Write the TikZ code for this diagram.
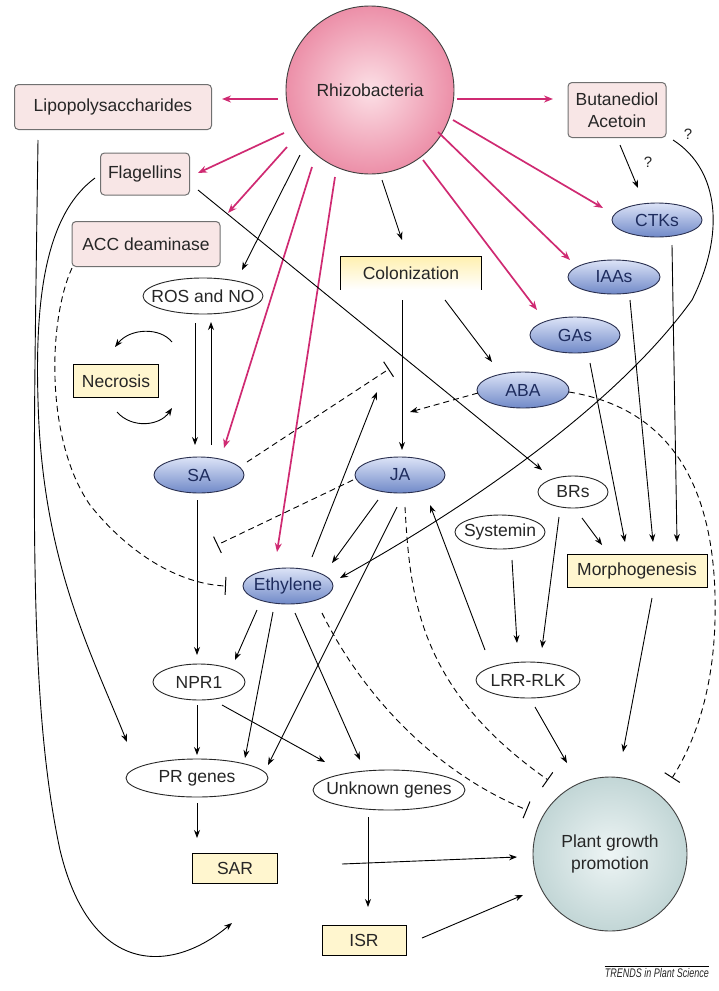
\documentclass[tikz,border=0pt]{standalone}
\usepackage{fontspec}
\setmainfont{Liberation Sans}
\usetikzlibrary{arrows.meta,shapes.geometric}
\definecolor{mag}{HTML}{CF2A72}
\definecolor{pinkfill}{HTML}{F8E6E6}
\definecolor{boxgray}{HTML}{707070}
\definecolor{rhA}{HTML}{FCE0E6}
\definecolor{rhB}{HTML}{EC8FA8}
\definecolor{blueA}{HTML}{DCE3F7}
\definecolor{blueB}{HTML}{7089C8}
\definecolor{navy}{HTML}{2A3050}
\definecolor{navytext}{HTML}{1E2C5E}
\definecolor{yelfill}{HTML}{FFF6CF}
\definecolor{colA}{HTML}{FFF0B0}
\definecolor{pgA}{HTML}{EEF5F5}
\definecolor{pgB}{HTML}{C2D6D6}
\newcommand{\zw}[1]{\makebox[0pt]{#1}}
\begin{document}
\begin{tikzpicture}[x=1pt,y=-1pt,
  every node/.style={font=\fontsize{17.5}{22}\selectfont, inner sep=0pt, text=black!85},
  pinkbox/.style={rectangle, rounded corners=4pt, draw=boxgray, fill=pinkfill, line width=1pt},
  yelbox/.style={rectangle, draw=black, line width=1pt, fill=yelfill},
  blueell/.style={ellipse, draw=navy, line width=0.9pt, top color=blueA, bottom color=blueB, text=navytext},
  whiteell/.style={ellipse, draw=black!85, line width=0.9pt, fill=white},
  arr/.style={line width=0.9pt, -{Stealth[length=8pt,width=6pt]}},
  marr/.style={line width=1.7pt, draw=mag, -{Stealth[length=9pt,width=7pt]}},
  dsh/.style={line width=0.9pt, dash pattern=on 6pt off 4pt},
  darr/.style={dsh, -{Stealth[length=8pt,width=6pt]}},
  inh/.style={dsh, -{Bar[width=18pt,line width=1pt]}}
]
\useasboundingbox (0,0) rectangle (718,991);

% ---------- nodes ----------
\node[circle, minimum size=168pt, draw=black!75, line width=0.9pt, inner color=rhA, outer color=rhB] (rh) at (370,90) {Rhizobacteria};
\node[pinkbox, minimum width=197pt, minimum height=45pt] (lps) at (113,107) {Lipopolysaccharides};
\node[pinkbox, minimum width=89pt, minimum height=42pt] (flag) at (145,174) {Flagellins};
\node[pinkbox, minimum width=148pt, minimum height=45pt] (acc) at (146,244) {ACC deaminase};
\node[pinkbox, minimum width=98pt, minimum height=55pt, align=center] (buta) at (617,110) {Butanediol\\Acetoin};
\node[blueell, minimum width=90pt, minimum height=34pt] (ctks) at (657,220) {\zw{CTKs}};
\node[blueell, minimum width=92pt, minimum height=34pt] (iaas) at (614,277) {\zw{IAAs}};
\node[blueell, minimum width=90pt, minimum height=36pt] (gas) at (575,335) {\zw{GAs}};
\node[blueell, minimum width=92pt, minimum height=36pt] (aba) at (523,390) {\zw{ABA}};
\node[minimum width=140pt, minimum height=33pt, top color=colA, bottom color=white] (colon) at (411,273) {Colonization};
\draw[line width=1pt] (colon.south west) |- (colon.north east) -- (colon.south east);
\node[whiteell, minimum width=120pt, minimum height=36pt] (ros) at (203,296) {\zw{ROS and NO}};
\node[yelbox, minimum width=85pt, minimum height=33pt] (necro) at (116,381) {Necrosis};
\node[blueell, minimum width=90pt, minimum height=36pt] (sa) at (199,475) {\zw{SA}};
\node[blueell, minimum width=90pt, minimum height=36pt] (ja) at (400,475) {\zw{JA}};
\node[whiteell, minimum width=70pt, minimum height=32pt] (brs) at (573,492) {\zw{BRs}};
\node[whiteell, minimum width=90pt, minimum height=34pt] (syst) at (500,532) {\zw{Systemin}};
\node[yelbox, minimum width=140pt, minimum height=33pt] (morph) at (637,571) {Morphogenesis};
\node[blueell, minimum width=90pt, minimum height=36pt] (eth) at (288,586) {\zw{Ethylene}};
\node[whiteell, minimum width=92pt, minimum height=36pt] (npr) at (199,682) {\zw{NPR1}};
\node[whiteell, minimum width=104pt, minimum height=36pt] (lrr) at (528,680) {\zw{LRR-RLK}};
\node[whiteell, minimum width=142pt, minimum height=38pt] (pr) at (197,778) {\zw{PR genes}};
\node[whiteell, minimum width=152pt, minimum height=40pt] (unk) at (389,790) {\zw{Unknown genes}};
\node[yelbox, minimum width=85pt, minimum height=30pt] (sar) at (235,868) {SAR};
\node[yelbox, minimum width=84pt, minimum height=30pt] (isr) at (364,940) {ISR};
\node[circle, minimum size=154pt, draw=black!75, line width=0.9pt, inner color=pgA, outer color=pgB, align=center] (pgp) at (610,854) {Plant growth\\promotion};
\node[font=\fontsize{15}{16}\selectfont] (q1) at (688,134) {?};
\node[font=\fontsize{15}{16}\selectfont] (q2) at (648,162) {?};
\node[font=\fontsize{12.5}{13}\selectfont\itshape, anchor=north east] (footer) at (709,968) {\scalebox{0.72}[1]{TRENDS in Plant Science}};
\draw[line width=0.8pt] ([yshift=2pt]footer.north west) -- ([yshift=2pt]footer.north east);

% ---------- magenta arrows ----------
\draw[marr] ([shift={(-92,9)}]rh.center) -- ([shift={(109,-8)}]lps.center);
\draw[marr] ([shift={(-86,43)}]rh.center) -- ([shift={(53,-1)}]flag.center);
\draw[marr] ([shift={(-83,57)}]rh.center) -- ([shift={(82,-31)}]acc.center);
\draw[marr] ([shift={(-58,77)}]rh.center) -- ([shift={(25,-27)}]sa.center);
\draw[marr] ([shift={(-35,87)}]rh.center) -- ([shift={(-11,-34)}]eth.center);
\draw[marr] ([shift={(87,9)}]rh.center) -- ([shift={(-64,-11)}]buta.center);
\draw[marr] ([shift={(83,30)}]rh.center) -- ([shift={(-54,-12)}]ctks.center);
\draw[marr] ([shift={(68,42)}]rh.center) -- ([shift={(-44,-17)}]iaas.center);
\draw[marr] ([shift={(53,70)}]rh.center) -- ([shift={(-38,-25)}]gas.center);

% ---------- black arrows ----------
\draw[arr] ([shift={(-70,65)}]rh.center) -- ([shift={(39,-26)}]ros.center);
\draw[arr] ([shift={(12,90)}]rh.center) -- ([shift={(-9,-33)}]colon.center);
\draw[arr] ([shift={(3,35)}]buta.center) -- ([shift={(-19,-32)}]ctks.center);
\draw[arr] ([shift={(56,30)}]buta.center) .. controls (720,170) and (725,235) .. (692,300)
   .. controls (620,400) and (480,500) .. ([shift={(52,-8)}]eth.center);
\draw[arr] ([shift={(-9,27)}]colon.center) -- ([shift={(2,-25)}]ja.center);
\draw[arr] ([shift={(34,27)}]colon.center) -- ([shift={(-31,-28)}]aba.center);
\coordinate (abaT) at (410,412);
\draw[darr] ([shift={(-45,3)}]aba.center) -- (abaT);
\coordinate (saT) at (389,369);
\draw[inh] ([shift={(48,-13)}]sa.center) -- (saT);
\coordinate (ethU) at (377,392);
\draw[arr] ([shift={(24,-29)}]eth.center) -- (ethU);
\draw[arr] ([shift={(-8,27)}]ros.center) -- ([shift={(-4,-30)}]sa.center);
\draw[arr] ([shift={(12,-30)}]sa.center) -- ([shift={(8,26)}]ros.center);
\draw[arr] ([shift={(56,-39)}]necro.center) .. controls (160,327) and (130,328) .. ([shift={(-1,-34)}]necro.center);
\draw[arr] ([shift={(1,31)}]necro.center) .. controls (132,429) and (160,426) .. ([shift={(56,27)}]necro.center);
\draw[inh] ([shift={(-74,24)}]acc.center) .. controls (48,320) and (45,440) .. (90,505)
   .. controls (130,555) and (180,584) .. ([shift={(-62,0)}]eth.center);
\coordinate (jaT) at (217,545);
\draw[inh] ([shift={(-47,5)}]ja.center) -- (jaT);
\draw[arr] ([shift={(53,16)}]flag.center) -- ([shift={(-31,-22)}]brs.center);
\coordinate (lpsE) at (232,923);
\draw[arr] ([shift={(-75,33)}]lps.center) .. controls (33,500) and (28,700) .. (60,850)
   .. controls (90,975) and (170,975) .. (lpsE);
\draw[arr] ([shift={(-50,4)}]flag.center) .. controls (45,215) and (35,300) .. (38,400)
   .. controls (42,560) and (90,650) .. ([shift={(-70,-36)}]pr.center);
\draw[arr] ([shift={(-2,25)}]sa.center) -- ([shift={(-2,-27)}]npr.center);
\draw[arr] ([shift={(-31,24)}]eth.center) -- ([shift={(36,-22)}]npr.center);
\draw[arr] ([shift={(-15,26)}]eth.center) -- ([shift={(48,-20)}]pr.center);
\draw[arr] ([shift={(7,27)}]eth.center) -- ([shift={(-29,-30)}]unk.center);
\draw[arr] ([shift={(-22,25)}]ja.center) -- ([shift={(44,-23)}]eth.center);
\draw[arr] ([shift={(-3,32)}]ja.center) -- ([shift={(71,-13)}]pr.center);
\draw[inh] ([shift={(5,32)}]ja.center) .. controls (410,600) and (420,690) .. ([shift={(-62,-74)}]pgp.center);
\draw[inh] ([shift={(34,27)}]eth.center) .. controls (360,690) and (430,770) .. ([shift={(-83,-44)}]pgp.center);
\draw[inh] ([shift={(46,2)}]aba.center) .. controls (680,410) and (718,500) .. (715,620)
   .. controls (713,700) and (690,750) .. ([shift={(62,-76)}]pgp.center);
\draw[arr] ([shift={(12,28)}]syst.center) -- ([shift={(-11,-37)}]lrr.center);
\draw[arr] ([shift={(-14,25)}]brs.center) -- ([shift={(14,-32)}]lrr.center);
\draw[arr] ([shift={(9,26)}]brs.center) -- ([shift={(-35,-26)}]morph.center);
\draw[arr] ([shift={(15,28)}]gas.center) -- ([shift={(-12,-29)}]morph.center);
\draw[arr] ([shift={(16,23)}]iaas.center) -- ([shift={(16,-29)}]morph.center);
\draw[arr] ([shift={(15,25)}]ctks.center) -- ([shift={(40,-29)}]morph.center);
\draw[arr] ([shift={(-43,-30)}]lrr.center) -- ([shift={(30,30)}]ja.center);
\draw[arr] ([shift={(7,27)}]lrr.center) -- ([shift={(-43,-91)}]pgp.center);
\draw[arr] ([shift={(15,27)}]morph.center) -- ([shift={(13,-102)}]pgp.center);
\draw[arr] ([shift={(-2,23)}]npr.center) -- ([shift={(0,-23)}]pr.center);
\draw[arr] ([shift={(23,23)}]npr.center) -- ([shift={(-64,-28)}]unk.center);
\draw[arr] ([shift={(0,25)}]pr.center) -- ([shift={(-38,-30)}]sar.center);
\draw[arr] ([shift={(-21,27)}]unk.center) -- ([shift={(4,-33)}]isr.center);
\draw[arr] ([shift={(107,-4)}]sar.center) -- ([shift={(-93,3)}]pgp.center);
\draw[arr] ([shift={(58,-2)}]isr.center) -- ([shift={(-87,41)}]pgp.center);
\end{tikzpicture}
\end{document}
